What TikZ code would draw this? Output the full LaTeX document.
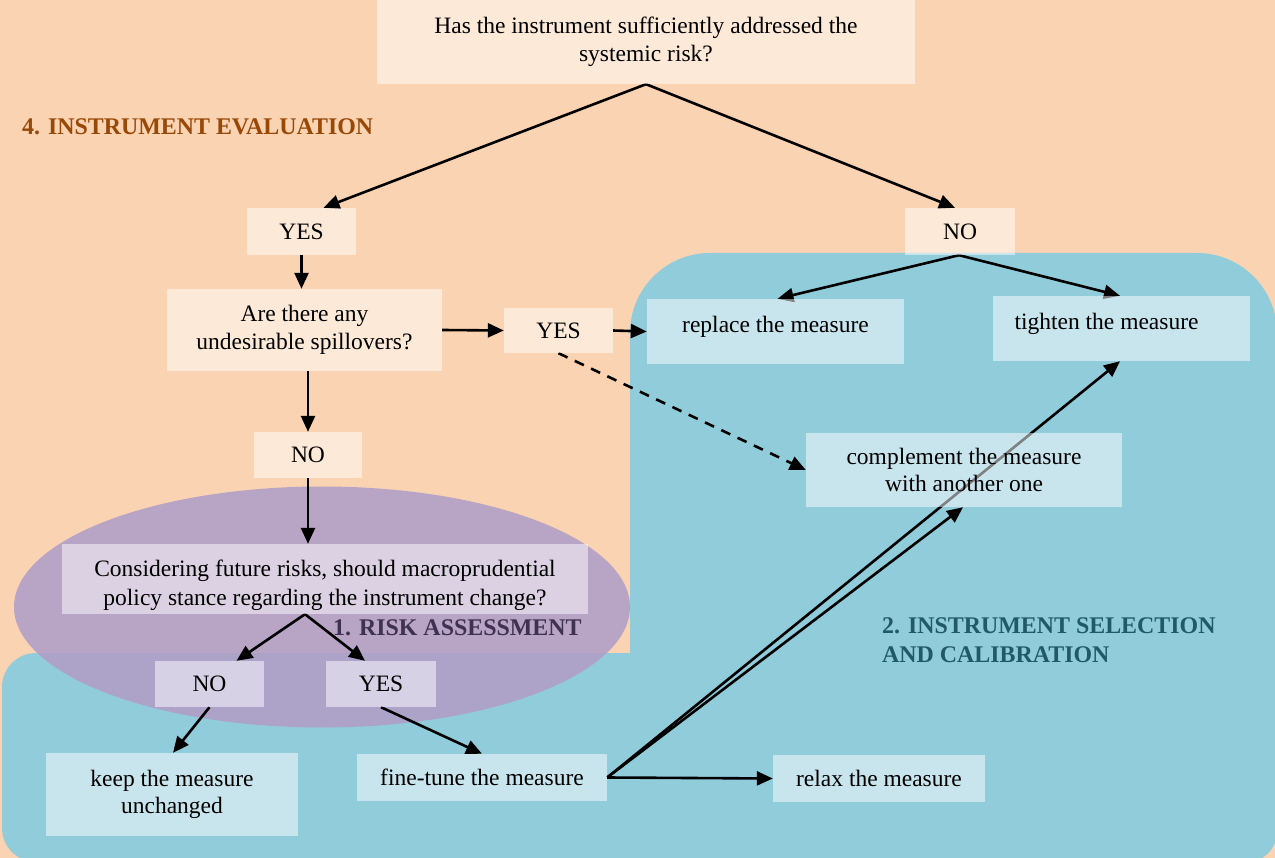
\documentclass[tikz,border=0pt]{standalone}
\usepackage{fontspec}
\setmainfont{Liberation Serif}
\usetikzlibrary{arrows.meta,calc}
\pgfdeclarelayer{bg}
\pgfdeclarelayer{arrowlayer}
\pgfsetlayers{bg,arrowlayer,main}
\definecolor{peach}{RGB}{250,211,178}
\definecolor{tealbg}{RGB}{145,204,219}
\definecolor{lav}{RGB}{177,159,200}
\definecolor{evalc}{RGB}{152,72,7}
\definecolor{riskc}{RGB}{63,49,81}
\definecolor{selc}{RGB}{33,89,104}
\begin{document}
\begin{tikzpicture}[x=1pt,y=-1pt,
  box/.style={fill=white, fill opacity=0.5, text opacity=1, inner sep=0pt, align=center,
    font=\fontsize{23.5}{27.5}\selectfont},
  conn/.style={line width=2.6pt, -{Triangle[length=16pt,width=14pt]}},
  dconn/.style={conn, dash pattern=on 10pt off 8pt},
  lbl/.style={font=\fontsize{23.9}{29}\selectfont\bfseries, inner sep=0pt, align=left}
]
\useasboundingbox (0,0) rectangle (1275,858);

% ---------- regions ----------
\begin{pgfonlayer}{bg}
  \fill[peach] (0,0) rectangle (1275,858);
  \fill[tealbg, rounded corners=80pt] (630,253) rectangle (1277,700);
  \fill[tealbg, rounded corners=30pt] (630,400) rectangle (1277,862);
  \fill[tealbg, rounded corners=34pt] (2,653) rectangle (700,862);
  \fill[lav, fill opacity=0.9] (322,607) ellipse [x radius=308, y radius=120.5];
\end{pgfonlayer}

% ---------- boxes ----------
\node[box, minimum width=538pt, minimum height=84pt] (q1) at (646,42)
  {Has the instrument sufficiently addressed the\\systemic risk?};
\node[box, minimum width=109pt, minimum height=47pt] (yes1) at (301.5,231.5) {YES};
\node[box, minimum width=110pt, minimum height=47pt] (no1) at (960,231.5) {NO};
\node[box, minimum width=275pt, minimum height=82pt] (spill) at (304.5,330)
  {Are there any\\undesirable spillovers?};
\node[box, minimum width=109pt, minimum height=45pt] (yes2) at (558.5,330.5) {YES};
\node[box, minimum width=257pt, minimum height=65pt] (replace) at (775.5,331.5)
  {\raisebox{14pt}{replace the measure}};
\node[box, minimum width=257pt, minimum height=65pt] (tighten) at (1121.5,328.5)
  {\raisebox{14pt}{tighten the measure\hspace*{30pt}}};
\node[box, minimum width=316pt, minimum height=74pt] (compl) at (964,470)
  {complement the measure\\with another one};
\node[box, minimum width=108pt, minimum height=46pt] (no2) at (308,455) {NO};
\node[box, minimum width=526pt, minimum height=70pt] (consider) at (325,579)
  {\rule{0pt}{30pt}Considering future risks, should macroprudential\\[1.5pt]policy stance regarding the instrument change?};
\node[box, minimum width=109pt, minimum height=46pt] (no3) at (209.5,684) {NO};
\node[box, minimum width=110pt, minimum height=46pt] (yes3) at (381,684) {YES};
\node[box, minimum width=252pt, minimum height=83pt] (keep) at (172,794.5)
  {keep the measure\\unchanged};
\node[box, minimum width=250pt, minimum height=47pt] (fine) at (482,777.5) {fine-tune the measure};
\node[box, minimum width=212pt, minimum height=47pt] (relax) at (879,778.5) {relax the measure};

% ---------- region labels ----------
\node[lbl, text=evalc, anchor=west] (evallbl) at (22,127) {4. INSTRUMENT EVALUATION};
\node[lbl, text=riskc, anchor=west] (risklbl) at (333,628) {1. RISK ASSESSMENT};
\node[lbl, text=selc, anchor=west] (sellbl) at (882,640.5) {2. INSTRUMENT SELECTION\\AND CALIBRATION};

% ---------- connectors ----------
\begin{pgfonlayer}{arrowlayer}
  \draw[conn] (q1.south) -- ([xshift=22pt]yes1.north);
  \draw[conn] (q1.south) -- ([xshift=-5pt]no1.north);
  \draw[conn] (yes1.south) -- (yes1.south |- spill.north);
  \draw[conn] (spill.east) -- (yes2.west);
  \draw[conn] (yes2.east) -- (replace.west);
  \draw[dconn] (yes2.south) -- (compl.west);
  \draw[conn] (spill.south -| no2.north) -- (no2.north);
  \draw[conn] (no2.south) -- (no2.south |- consider.north);
  \draw[conn] ([xshift=-1pt]no1.south) -- ([xshift=2pt]replace.north);
  \draw[conn] ([xshift=-1pt]no1.south) -- ([xshift=-1.5pt]tighten.north);
  \draw[conn] ([xshift=-20pt]consider.south) -- ([xshift=27pt]no3.north);
  \draw[conn] ([xshift=-20pt]consider.south) -- ([xshift=-16pt]yes3.north);
  \draw[conn] (no3.south) -- ([xshift=1pt]keep.north);
  \draw[conn] (yes3.south) -- (fine.north);
  \draw[conn] (fine.east) -- (relax.west);
  \draw[conn] (fine.east) -- ([xshift=-1.5pt]tighten.south);
  \draw[conn] (fine.east) -- ([xshift=-1pt]compl.south);
\end{pgfonlayer}
\end{tikzpicture}
\end{document}
